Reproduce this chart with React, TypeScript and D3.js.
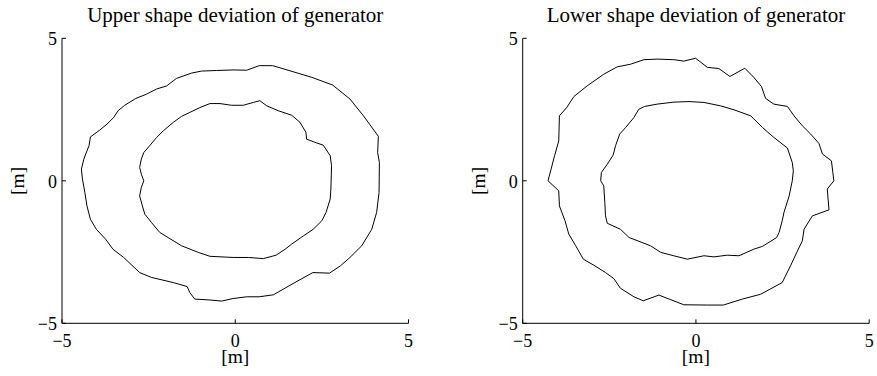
import React from "react";
import * as d3 from "d3";

// Outer and inner contour traces (x, y in metres) for each generator panel
const upperOuterX = [0.33, 0.69, 1.08, 1.58, 2.21, 2.81, 3.31, 3.70, 4.13, 4.11, 4.16, 4.15, 4.08, 3.94, 3.65, 3.31, 3.04, 2.72, 2.24, 1.72, 1.10, 0.69, 0.33, -0.06, -0.39, -0.75, -1.17, -1.31, -1.39, -1.79, -2.42, -2.76, -3.22, -3.53, -3.74, -4.01, -4.18, -4.28, -4.34, -4.41, -4.44, -4.37, -4.28, -4.22, -4.18, -3.91, -3.70, -3.51, -3.38, -3.19, -2.87, -2.56, -2.27, -1.98, -1.70, -1.26, -0.97, -0.54, -0.06];
const upperOuterY = [3.88, 4.04, 4.04, 3.86, 3.63, 3.36, 2.87, 2.28, 1.56, 0.99, 0.64, -0.41, -1.11, -1.70, -2.28, -2.69, -2.98, -3.24, -3.22, -3.57, -4.00, -4.07, -4.07, -4.13, -4.22, -4.18, -4.15, -3.92, -3.71, -3.57, -3.39, -3.22, -2.69, -2.40, -2.05, -1.70, -1.35, -0.88, -0.41, 0.06, 0.41, 0.76, 1.05, 1.23, 1.54, 1.78, 1.99, 2.22, 2.46, 2.65, 2.89, 3.04, 3.22, 3.33, 3.59, 3.78, 3.85, 3.87, 3.89];

const upperInnerX = [0.71, 0.91, 1.24, 1.63, 1.87, 2.04, 2.06, 2.30, 2.54, 2.74, 2.78, 2.76, 2.74, 2.62, 2.50, 2.25, 1.97, 1.63, 1.44, 1.18, 0.81, 0.38, -0.06, -0.73, -1.07, -1.55, -1.94, -2.18, -2.42, -2.61, -2.68, -2.76, -2.71, -2.64, -2.71, -2.76, -2.71, -2.64, -2.47, -2.27, -2.08, -1.79, -1.55, -1.31, -1.02, -0.73, -0.44, -0.11, 0.23, 0.52];
const upperInnerY = [2.81, 2.63, 2.46, 2.30, 2.05, 1.70, 1.46, 1.35, 1.25, 0.88, 0.53, -0.29, -0.64, -1.11, -1.40, -1.70, -1.93, -2.22, -2.40, -2.61, -2.73, -2.69, -2.69, -2.65, -2.51, -2.28, -1.99, -1.81, -1.46, -1.17, -0.88, -0.53, -0.23, 0.00, 0.23, 0.47, 0.76, 0.99, 1.23, 1.52, 1.75, 2.05, 2.26, 2.40, 2.57, 2.71, 2.71, 2.65, 2.65, 2.75];

const lowerOuterX = [-0.01, 0.33, 0.66, 0.98, 1.41, 1.67, 1.89, 2.01, 2.25, 2.64, 2.83, 3.07, 3.31, 3.55, 3.65, 3.91, 3.98, 3.79, 3.84, 3.36, 3.12, 3.07, 2.93, 2.73, 2.49, 1.87, 1.34, 0.79, 0.33, -0.35, -1.07, -1.52, -1.79, -2.18, -2.37, -2.61, -2.95, -3.25, -3.47, -3.67, -3.78, -3.94, -3.96, -4.27, -4.18, -4.08, -3.96, -3.94, -3.73, -3.52, -3.14, -2.66, -2.27, -1.89, -1.50, -1.12, -0.64, -0.35];
const lowerOuterY = [4.30, 3.98, 3.94, 3.66, 3.95, 3.63, 3.31, 2.89, 2.69, 2.61, 2.28, 1.93, 1.64, 1.31, 0.94, 0.70, 0.00, -0.29, -1.02, -1.23, -1.70, -2.11, -2.46, -2.98, -3.57, -3.98, -4.15, -4.36, -4.36, -4.35, -4.01, -4.21, -4.07, -3.77, -3.43, -3.22, -2.96, -2.75, -2.28, -1.87, -1.40, -0.88, -0.35, 0.00, 0.41, 0.88, 1.40, 2.28, 2.57, 2.96, 3.33, 3.74, 4.00, 4.09, 4.25, 4.27, 4.25, 4.20];

const lowerInnerX = [-0.20, 0.23, 0.71, 1.10, 1.58, 1.92, 2.25, 2.64, 2.78, 2.81, 2.78, 2.69, 2.54, 2.49, 2.40, 2.33, 1.92, 1.67, 1.24, 0.90, 0.52, 0.23, -0.25, -0.64, -1.02, -1.31, -1.93, -2.18, -2.56, -2.61, -2.63, -2.66, -2.75, -2.73, -2.56, -2.39, -2.32, -2.20, -2.03, -1.79, -1.65, -1.48, -1.12, -0.64];
const lowerInnerY = [2.78, 2.75, 2.63, 2.49, 2.28, 1.87, 1.52, 1.15, 0.64, 0.35, 0.00, -0.53, -1.11, -1.40, -1.81, -1.99, -2.30, -2.40, -2.63, -2.61, -2.67, -2.63, -2.75, -2.63, -2.51, -2.28, -1.99, -1.70, -1.49, -1.23, -0.76, -0.18, 0.00, 0.29, 0.58, 0.90, 1.23, 1.64, 1.87, 2.22, 2.51, 2.61, 2.69, 2.76];

const titles = ["Upper shape deviation of generator", "Lower shape deviation of generator"];
const tickValues = [-5, 0, 5];
const axisLabel = "[m]";

const W = 877;
const H = 376;
const FONT = "'Liberation Serif', 'Times New Roman', serif";

type Pt = [number, number];
const zip = (xs: number[], ys: number[]): Pt[] => xs.map((x, i) => [x, ys[i]]);

const panels = [
  {
    title: titles[0],
    left: 62,
    rings: [zip(upperOuterX, upperOuterY), zip(upperInnerX, upperInnerY)],
  },
  {
    title: titles[1],
    left: 522.7,
    rings: [zip(lowerOuterX, lowerOuterY), zip(lowerInnerX, lowerInnerY)],
  },
];

const PLOT_W = 346.5;
const TOP = 38.3;
const BOTTOM = 323.3;
const TICK = 4;

function fmt(v: number) {
  return v < 0 ? "\u2212" + Math.abs(v) : String(v);
}

function Panel({ title, left, rings }: { title: string; left: number; rings: Pt[][] }) {
  const x = d3.scaleLinear().domain([-5, 5]).range([left, left + PLOT_W]);
  const y = d3.scaleLinear().domain([-5, 5]).range([BOTTOM, TOP]);
  const line = d3
    .line<Pt>()
    .x((d) => x(d[0]))
    .y((d) => y(d[1]))
    .curve(d3.curveLinearClosed);
  const cx = x(0);
  const cy = y(0);
  return (
    <g>
      <text x={cx} y={21.7} textAnchor="middle" fontFamily={FONT} fontSize={21}>
        {title}
      </text>
      {rings.map((r, i) => (
        <path key={i} d={line(r) || ""} fill="none" stroke="#000" strokeWidth={1} />
      ))}
      {/* axes */}
      <line x1={x(-5)} x2={x(5)} y1={BOTTOM} y2={BOTTOM} stroke="#000" strokeWidth={1} />
      <line x1={left} x2={left} y1={BOTTOM} y2={TOP} stroke="#000" strokeWidth={1} />
      {tickValues.map((t) => (
        <g key={"x" + t}>
          <line x1={x(t)} x2={x(t)} y1={BOTTOM} y2={BOTTOM - TICK} stroke="#000" strokeWidth={1} />
          <text x={x(t)} y={346.5} textAnchor="middle" fontFamily={FONT} fontSize={18}>
            {fmt(t)}
          </text>
        </g>
      ))}
      {tickValues.map((t) => (
        <g key={"y" + t}>
          <line x1={left} x2={left + TICK} y1={y(t)} y2={y(t)} stroke="#000" strokeWidth={1} />
          <text x={left - 5} y={y(t)} dy="0.38em" textAnchor="end" fontFamily={FONT} fontSize={18}>
            {fmt(t)}
          </text>
        </g>
      ))}
      <text x={cx} y={363} textAnchor="middle" fontFamily={FONT} fontSize={19.5}>
        {axisLabel}
      </text>
      <text
        transform={`translate(${left - 38},${cy}) rotate(-90)`}
        textAnchor="middle"
        fontFamily={FONT}
        fontSize={19.5}
      >
        {axisLabel}
      </text>
    </g>
  );
}

export default function App() {
  return (
    <svg
      width={W}
      height={H}
      viewBox={`0 0 ${W} ${H}`}
      style={{ position: "absolute", left: 0, top: 0, background: "#fff" }}
    >
      <rect width={W} height={H} fill="#fff" />
      {panels.map((p, i) => (
        <Panel key={i} {...p} />
      ))}
    </svg>
  );
}
